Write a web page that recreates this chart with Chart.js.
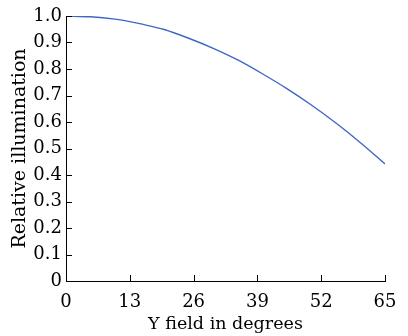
<!DOCTYPE html>
<html><head><meta charset="utf-8">
<script src="https://cdn.jsdelivr.net/npm/chart.js@4/dist/chart.umd.min.js"></script>
<style>html,body{margin:0;padding:0;background:#fff}#wrap{width:408px;height:336px}</style>
</head><body><div id="wrap"><canvas id="c" width="408" height="336"></canvas></div>
<script>
const degrees = [0, 5, 10, 13, 15, 20, 25, 30, 35, 40, 45, 50, 55, 60, 65];
const illumination = [1.0, 0.997, 0.988, 0.979, 0.971, 0.949, 0.916, 0.878, 0.834, 0.782, 0.726, 0.664, 0.596, 0.522, 0.442];
const xTicks = [0, 13, 26, 39, 52, 65];
const yTicks = [0, 0.1, 0.2, 0.3, 0.4, 0.5, 0.6, 0.7, 0.8, 0.9, 1.0];
const xTitle = 'Y field in degrees';
const yTitle = 'Relative illumination';

const FONT = 'DejaVu Serif';
const innerTicks = {
  id: 'innerTicks',
  afterDraw(chart) {
    const ctx = chart.ctx;
    const xs = chart.scales.x, ys = chart.scales.y;
    ctx.save();
    ctx.strokeStyle = '#000';
    ctx.lineWidth = 1;
    ctx.beginPath();
    xs.ticks.forEach(t => {
      const px = Math.round(xs.getPixelForValue(t.value)) + 0.5;
      ctx.moveTo(px, xs.top); ctx.lineTo(px, xs.top - 6);
    });
    ys.ticks.forEach(t => {
      const py = Math.round(ys.getPixelForValue(t.value)) + 0.5;
      ctx.moveTo(ys.right, py); ctx.lineTo(ys.right + 6, py);
    });
    ctx.stroke();
    ctx.restore();
  }
};

new Chart(document.getElementById('c'), {
  type: 'line',
  data: {
    datasets: [{
      data: degrees.map((d, i) => ({x: d, y: illumination[i]})),
      borderColor: '#3f66c6',
      borderWidth: 1.4,
      pointRadius: 0,
      cubicInterpolationMode: 'monotone',
      fill: false
    }]
  },
  options: {
    responsive: false,
    animation: false,
    devicePixelRatio: 1,
    layout: {padding: {top: 16, right: 23, bottom: 0, left: 0}},
    plugins: {legend: {display: false}, tooltip: {enabled: false}},
    scales: {
      x: {
        type: 'linear', min: 0, max: 65,
        afterBuildTicks: s => { s.ticks = xTicks.map(v => ({value: v})); },
        afterFit: s => { s.height = 55; },
        grid: {display: true, drawOnChartArea: false, drawTicks: false},
        border: {display: true, color: '#000', width: 1},
        ticks: {color: '#000', font: {family: FONT, size: 18}, padding: 11, maxRotation: 0, autoSkip: false},
        title: {display: true, text: xTitle, color: '#000', font: {family: FONT, size: 17.5}, padding: {top: 0, bottom: 1}}
      },
      y: {
        type: 'linear', min: 0, max: 1,
        afterBuildTicks: s => { s.ticks = yTicks.map(v => ({value: v})); },
        afterFit: s => { s.width = 66; },
        grid: {display: true, drawOnChartArea: false, drawTicks: false},
        border: {display: true, color: '#000', width: 1},
        ticks: {color: '#000', font: {family: FONT, size: 18}, padding: 4, autoSkip: false,
          callback: v => v === 0 ? '0' : v.toFixed(1)},
        title: {display: true, text: yTitle, color: '#000', font: {family: FONT, size: 19}, padding: {top: 9, bottom: 0}}
      }
    }
  },
  plugins: [innerTicks]
});
</script></body></html>
